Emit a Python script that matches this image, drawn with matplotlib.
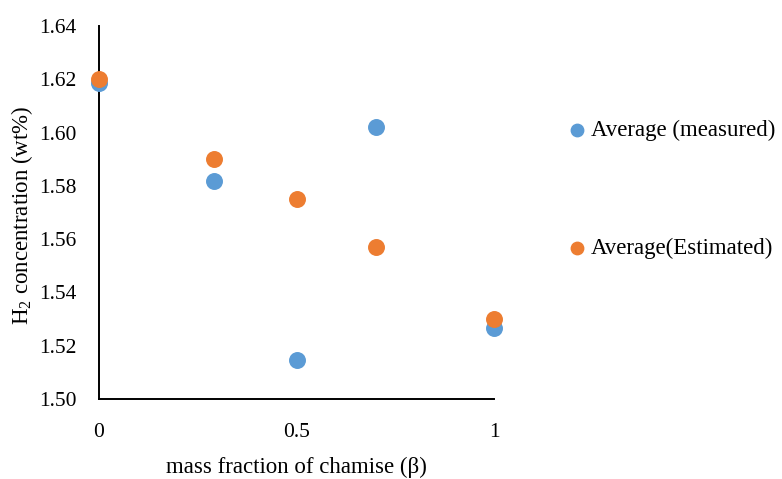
import matplotlib
matplotlib.use("Agg")
import matplotlib.pyplot as plt

# H2 concentration vs. mass fraction of chamise
beta = [0.0, 0.29, 0.5, 0.7, 1.0]
measured = [1.6186, 1.5818, 1.5147, 1.6021, 1.5267]
estimated = [1.620, 1.590, 1.575, 1.557, 1.530]

x_ticks = [0, 0.5, 1]
x_tick_labels = ["0", "0.5", "1"]
y_ticks = [1.50, 1.52, 1.54, 1.56, 1.58, 1.60, 1.62, 1.64]
y_tick_labels = ["1.50", "1.52", "1.54", "1.56", "1.58", "1.60", "1.62", "1.64"]

BLUE = "#5B9BD5"
ORANGE = "#ED7D31"

plt.rcParams["font.family"] = ["Liberation Serif", "DejaVu Serif"]
plt.rcParams["mathtext.fontset"] = "custom"
plt.rcParams["mathtext.rm"] = "Liberation Serif"

W, H = 782, 479
fig = plt.figure(figsize=(W / 100, H / 100), dpi=100)
ax = fig.add_axes([99 / W, 1 - 399 / H, (494 - 99) / W, (399 - 26) / H])

ax.scatter(beta, measured, s=125, color=BLUE, label="Average (measured)", zorder=3, clip_on=False)
ax.scatter(beta, estimated, s=125, color=ORANGE, label="Average(Estimated)", zorder=3, clip_on=False)

ax.set_xlim(0, 1)
ax.set_ylim(1.50, 1.64)
ax.set_xticks(x_ticks)
ax.set_xticklabels(x_tick_labels)
ax.set_yticks(y_ticks)
ax.set_yticklabels(y_tick_labels)
ax.tick_params(length=0, labelsize=15.5)
ax.tick_params(axis="y", pad=16)
ax.tick_params(axis="x", pad=17)

for side in ("top", "right"):
    ax.spines[side].set_visible(False)
for side in ("left", "bottom"):
    ax.spines[side].set_linewidth(1.4)
    ax.spines[side].set_color("black")

fig.text(296 / W, 1 - 467 / H, "mass fraction of chamise (β)", fontsize=16.5,
         ha="center", va="center")
fig.text(22 / W, 1 - 215 / H, "H$_2$ concentration (wt%)", fontsize=16.5,
         ha="center", va="center", rotation=90)

ax.legend(loc="upper left", bbox_to_anchor=(566 / W, 1 - 120 / H),
          bbox_transform=fig.transFigure, frameon=False, fontsize=16.5,
          handletextpad=0.1, labelspacing=4.2, markerscale=0.8,
          borderpad=0, borderaxespad=0, handlelength=1.0)

fig.savefig("out.png", dpi=100)
